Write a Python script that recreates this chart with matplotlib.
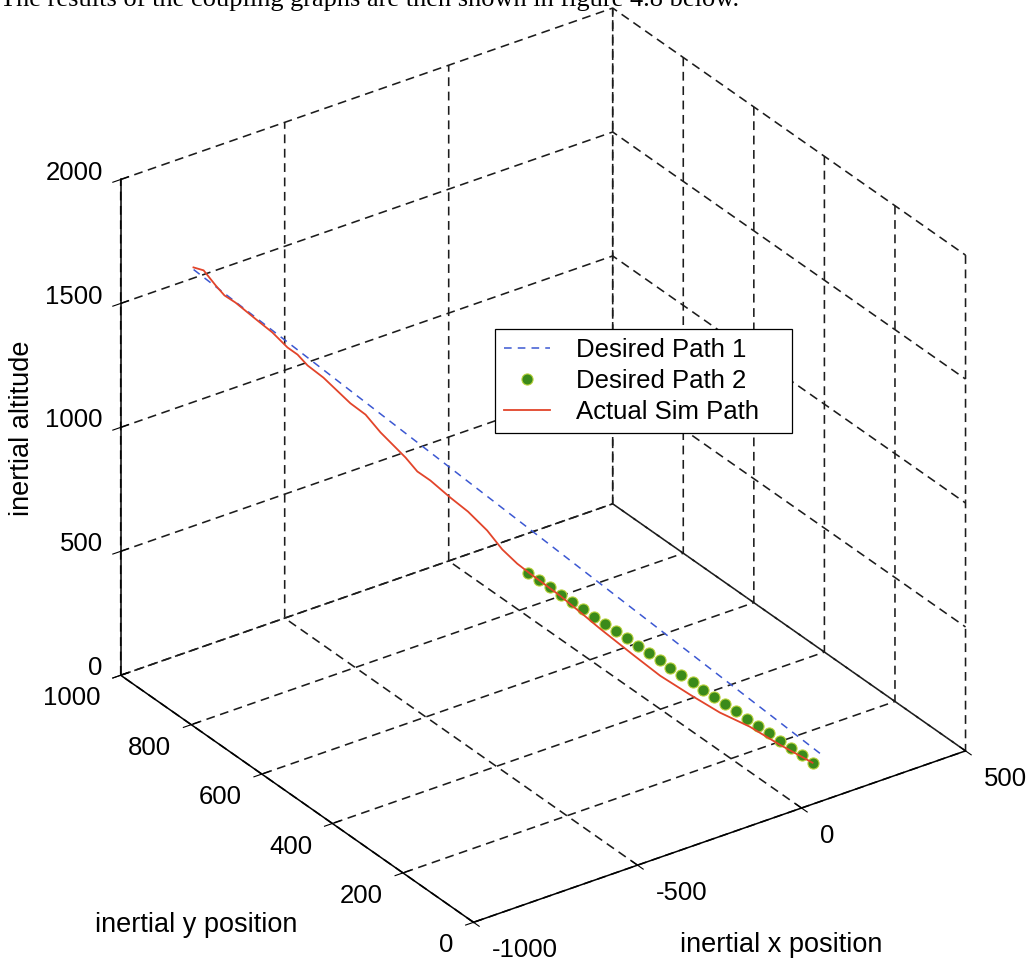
import matplotlib
matplotlib.use("Agg")
import matplotlib.pyplot as plt
from mpl_toolkits.mplot3d import Axes3D, proj3d  # noqa: F401

# ---- data -------------------------------------------------------------
# Desired path 1: straight reference line
path1_x = [-939, 196]
path1_y = [850, 125]
path1_z = [1758, 0]

# Desired path 2: final approach waypoints
path2_x = [-454, -431, -407, -384, -360, -337, -314, -290, -267, -243, -220,
           -197, -173, -150, -127, -103, -80, -56, -33, -10, 14, 37, 61, 84,
           107, 131, 154]
path2_y = [352, 343, 334, 324, 315, 306, 297, 287, 278, 269, 260, 250, 241,
           232, 223, 213, 204, 195, 186, 177, 167, 158, 149, 140, 130, 121, 112]
path2_z = [808, 777, 746, 715, 684, 653, 621, 590, 559, 528, 497, 466, 435,
           404, 373, 342, 311, 280, 249, 218, 186, 155, 124, 93, 62, 31, 0]

# Actual simulated trajectory
sim_x = [-933, -900, -895, -888, -864, -826, -800, -782, -762, -753, -723,
         -688, -659, -650, -621, -613, -586, -554, -522, -499, -493, -473,
         -449, -391, -352, -324, -265, -216, -149, -79, 2, 72, 122, 154]
sim_y = [856, 858, 828, 810, 801, 774, 756, 730, 720, 700, 683, 639, 623, 589,
         545, 519, 507, 480, 460, 427, 390, 366, 352, 321, 292, 270, 231, 200,
         178, 158, 149, 129, 118, 112]
sim_z = [1758, 1729, 1695, 1670, 1639, 1576, 1534, 1491, 1463, 1435, 1389,
         1313, 1270, 1228, 1157, 1123, 1086, 1029, 978, 924, 882, 839, 802,
         717, 652, 604, 510, 434, 349, 264, 179, 94, 37, 0]

x_ticks = [-1000, -500, 0, 500]
y_ticks = [0, 200, 400, 600, 800, 1000]
z_ticks = [0, 500, 1000, 1500, 2000]

labels = ["Desired Path 1", "Desired Path 2", "Actual Sim Path"]

# ---- figure -------------------------------------------------------------
plt.rcParams["font.family"] = ["Liberation Sans", "DejaVu Sans"]
W, H = 1033, 963
fig = plt.figure(figsize=(W / 100, H / 100), dpi=100)

S = 963
cx, cy = 530.1, 478.2
ax = fig.add_axes([(cx - S / 2) / W, (H - cy - S / 2) / H, S / W, S / H],
                  projection="3d")
ax.set_proj_type("ortho")
ax.view_init(elev=29.6, azim=-125.2)
ax.set_box_aspect((603, 613, 571), zoom=1.039)

l1, = ax.plot(path1_x, path1_y, path1_z, color="#3c58d2", lw=1.1,
              linestyle=(0, (5, 4)))
l2, = ax.plot(path2_x, path2_y, path2_z, linestyle="none", marker="o",
              markersize=8, markerfacecolor="#3b8a1a",
              markeredgecolor="#b9d23c", markeredgewidth=0.8)
l3, = ax.plot(sim_x, sim_y, sim_z, color="#e2442a", lw=1.3)

ax.set_xlim(x_ticks[0], x_ticks[-1])
ax.set_ylim(y_ticks[0], y_ticks[-1])
ax.set_zlim(z_ticks[0], z_ticks[-1])
ax.set_xticks(x_ticks)
ax.set_yticks(y_ticks)
ax.set_zticks(z_ticks)
ax.set_xticklabels([])
ax.set_yticklabels([])
ax.set_zticklabels([])

for axis in (ax.xaxis, ax.yaxis, ax.zaxis):
    axis.set_pane_color((1, 1, 1, 0))
    axis.pane.set_edgecolor((1, 1, 1, 0))
    axis._axinfo["grid"].update(color="#1c1c1c", linewidth=1.15,
                                linestyle=(0, (5.5, 3.5)))
    axis._axinfo["tick"]["inward_factor"] = 0.2
    axis._axinfo["tick"]["outward_factor"] = 0.2
    axis._axinfo["axisline"]["color"] = "black"
    axis.line.set_linewidth(1.1)

# tick labels, placed MATLAB-style next to each tick
M = ax.get_proj()


def label_at(x, y, z, s, **kw):
    px, py, _ = proj3d.proj_transform(x, y, z, M)
    ax.text2D(px, py, s, transform=ax.transData, **kw)


TICK_FS = 18.5
for v in x_ticks:
    label_at(v + 55, 0, -138, f"{v}", fontsize=TICK_FS, ha="left", va="center")
for v in y_ticks:
    label_at(-1061, v, -65, f"{v}", fontsize=TICK_FS, ha="right", va="center")
for v in z_ticks:
    label_at(-1000, 1051, v - 23, f"{v}", fontsize=TICK_FS, ha="right",
             va="center")

# axis titles
LAB_FS = 19.5
fig.text(781 / W, 1 - 945 / H, "inertial x position", fontsize=LAB_FS,
         ha="center", va="center")
fig.text(196 / W, 1 - 925 / H, "inertial y position", fontsize=LAB_FS,
         ha="center", va="center")
fig.text(22 / W, 1 - 428 / H, "inertial altitude", fontsize=LAB_FS,
         ha="center", va="center", rotation=90)

leg = fig.legend([l1, l2, l3], labels, loc="upper left", mode="expand",
                 bbox_to_anchor=(495 / W, 1 - 430 / H, 297 / W, 101 / H),
                 borderaxespad=0, fontsize=18.5, fancybox=False,
                 edgecolor="black", framealpha=1, handlelength=1.8,
                 handletextpad=1.0, borderpad=0.35, labelspacing=0.28)
leg.get_frame().set_linewidth(0.9)

fig.text(0.0, 1 - 6 / H,
         "The results of the coupling graphs are then shown in figure 4.8 below.",
         family=["Liberation Serif"], fontsize=19, va="baseline", ha="left")

fig.savefig("out.png", dpi=100)
